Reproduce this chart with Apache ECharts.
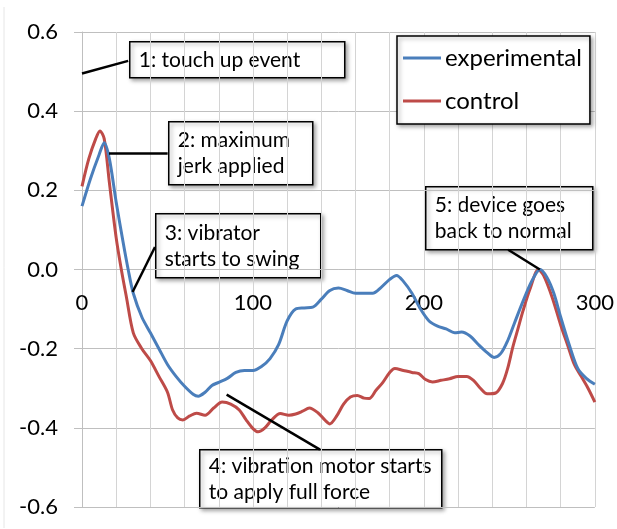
<!DOCTYPE html>
<html>
<head>
<meta charset="utf-8">
<script src="https://cdn.jsdelivr.net/npm/echarts@6/dist/echarts.min.js"></script>
<style>
  html,body{margin:0;padding:0;background:#fff;}
  #main{width:617px;height:529px;}
</style>
</head>
<body>
<div id="main"></div>
<script>
// experimental curve, [x, y]
var expData = [
  [0,0.16],[5,0.23],[10,0.29],[13,0.32],[16,0.28],[20,0.17],[24,0.07],[27,0.0],[30,-0.06],
  [35,-0.12],[40,-0.16],[45,-0.2],[50,-0.24],[55,-0.27],[60,-0.295],[65,-0.315],[68,-0.32],
  [72,-0.31],[76,-0.293],[80,-0.285],[85,-0.275],[90,-0.26],[95,-0.255],[100,-0.255],
  [105,-0.245],[110,-0.225],[115,-0.19],[120,-0.13],[125,-0.1],[130,-0.097],[135,-0.095],
  [140,-0.075],[145,-0.053],[150,-0.047],[155,-0.053],[160,-0.06],[165,-0.06],[170,-0.06],
  [175,-0.045],[180,-0.025],[184,-0.015],[188,-0.03],[193,-0.06],[198,-0.1],[203,-0.13],
  [208,-0.143],[213,-0.15],[218,-0.16],[222,-0.158],[227,-0.168],[232,-0.19],[237,-0.21],
  [241,-0.222],[245,-0.212],[249,-0.18],[253,-0.135],[258,-0.08],[263,-0.03],[268,0.0],
  [272,-0.02],[276,-0.06],[280,-0.12],[285,-0.19],[290,-0.25],[295,-0.275],[300,-0.29]
];
// control curve, [x, y]
var ctlData = [
  [0,0.21],[4,0.28],[8,0.33],[10.5,0.35],[13,0.33],[16,0.22],[20,0.08],[23,0.0],[26,-0.07],
  [30,-0.16],[35,-0.2],[40,-0.23],[45,-0.27],[50,-0.31],[53,-0.355],[56,-0.375],[59,-0.38],
  [63,-0.37],[67,-0.363],[72,-0.368],[77,-0.35],[82,-0.335],[87,-0.34],[92,-0.355],[96,-0.38],
  [100,-0.402],[103,-0.41],[107,-0.4],[111,-0.38],[116,-0.364],[121,-0.368],[125,-0.365],
  [129,-0.358],[133,-0.35],[138,-0.362],[142,-0.38],[145,-0.39],[149,-0.37],[153,-0.34],
  [157,-0.322],[161,-0.318],[165,-0.325],[168,-0.326],[172,-0.305],[176,-0.285],[180,-0.26],
  [183,-0.25],[188,-0.255],[193,-0.26],[197,-0.263],[201,-0.278],[205,-0.284],[210,-0.28],
  [215,-0.276],[220,-0.27],[225,-0.27],[229,-0.28],[233,-0.3],[237,-0.314],[242,-0.312],
  [246,-0.288],[249,-0.25],[252,-0.196],[255,-0.15],[258,-0.104],[262,-0.05],[267,0.0],
  [270,-0.015],[275,-0.07],[280,-0.14],[284,-0.19],[288,-0.24],[292,-0.27],[296,-0.3],[300,-0.335]
];
var seriesNames = ['experimental','control'];
var xTickLabels = [0,100,200,300];
// callout leader lines in data units: [x1,y1,x2,y2]
var leaderLines = [
  [0,0.495,27,0.527],
  [15.8,0.294,50.1,0.294],
  [29.6,-0.057,42.7,0.057],
  [84.6,-0.316,139.2,-0.455],
  [249.3,0.05,267.8,0.0]
];
var calloutTexts = [
  '1: touch up event',
  '2: maximum\njerk applied',
  '3: vibrator\nstarts to swing',
  '4: vibration motor starts\nto apply full force',
  '5: device goes\nback to normal'
];
// box layout in pixels: [left, top, width, height]
var calloutBoxes = [
  [129,41,215,36],
  [168,121,144,63],
  [155,213,165,64],
  [199,449,242,58],
  [425,186,167,63]
];

var FONT = 'Lato';
var gridTop = 32, gridBottom = 22, chartH = 529;
var myChart = echarts.init(document.getElementById('main'));

var graphics = [{
  type:'line', shape:{x1:4,y1:7,x2:4,y2:528},
  style:{stroke:'#e6e6e6',lineWidth:1}
}];
for(var i=0;i<calloutBoxes.length;i++){
  var b = calloutBoxes[i];
  graphics.push({
    type:'group', left:b[0], top:b[1], z:100,
    children:[{
      type:'rect', shape:{x:0,y:0,width:b[2],height:b[3]},
      style:{fill:'#fff',stroke:'#000',lineWidth:1.5,
        shadowBlur:4,shadowOffsetX:2,shadowOffsetY:2,shadowColor:'rgba(0,0,0,0.35)'}
    },{
      type:'text', x:9, y:b[3]/2,
      style:{text:calloutTexts[i],font:'21px '+FONT,fill:'#000',
        verticalAlign:'middle',lineHeight:26}
    }]
  });
}

var markData = [];
for(var j=0;j<leaderLines.length;j++){
  var l = leaderLines[j];
  markData.push([{coord:[l[0],l[1]]},{coord:[l[2],l[3]]}]);
}

// x axis sits on y = 0, which is the middle of the plot
var xOffset = -(chartH - gridTop - gridBottom)/2;

option = {
  animation:false,
  backgroundColor:'#fff',
  grid:{left:82,right:22,top:gridTop,bottom:gridBottom},
  legend:{
    data:seriesNames,
    orient:'vertical',
    left:397, top:36,
    icon:'rect', itemWidth:38, itemHeight:3,
    itemGap:17,
    padding:[9,8,10,6],
    backgroundColor:'#fff',
    borderColor:'#000', borderWidth:1.5,
    shadowBlur:4, shadowOffsetX:2, shadowOffsetY:2, shadowColor:'rgba(0,0,0,0.35)',
    textStyle:{fontFamily:FONT,fontSize:24,color:'#000',padding:[0,0,0,-1],lineHeight:26},
    z:50
  },
  xAxis:{
    type:'value', min:0, max:300, interval:20,
    offset:xOffset,
    axisLine:{onZero:false,lineStyle:{color:'#bfbfbf',width:1}},
    axisTick:{show:false},
    splitLine:{show:true,lineStyle:{color:'#d4d4d4',width:1}},
    axisLabel:{
      margin:22, fontFamily:FONT, fontSize:22, color:'#000',
      formatter:function(v){ return xTickLabels.indexOf(v)>=0 ? String(v) : ''; }
    }
  },
  yAxis:{
    type:'value', min:-0.6, max:0.6, interval:0.2,
    axisLine:{show:true,onZero:false,lineStyle:{color:'#bfbfbf',width:1}},
    axisTick:{show:true,length:8,lineStyle:{color:'#bfbfbf'}},
    splitLine:{show:true,lineStyle:{color:'#bfbfbf',width:1}},
    axisLabel:{
      margin:24, fontFamily:FONT, fontSize:22, color:'#000',
      formatter:function(v){ return v.toFixed(1); }
    }
  },
  series:[{
    name:seriesNames[0], type:'line', data:expData, smooth:0.3,
    showSymbol:false, symbol:'none',
    lineStyle:{color:'#4a7ebb',width:3}, itemStyle:{color:'#4a7ebb'}
  },{
    name:seriesNames[1], type:'line', data:ctlData, smooth:0.3,
    showSymbol:false, symbol:'none',
    lineStyle:{color:'#be4b48',width:3}, itemStyle:{color:'#be4b48'},
    z:1
  },{
    name:'leaders', type:'line', data:[], z:5,
    markLine:{
      silent:true, symbol:['none','none'], label:{show:false},
      lineStyle:{color:'#000',width:2.5,type:'solid'},
      data:markData
    }
  }],
  graphic:graphics
};
myChart.setOption(option);
</script>
</body>
</html>
